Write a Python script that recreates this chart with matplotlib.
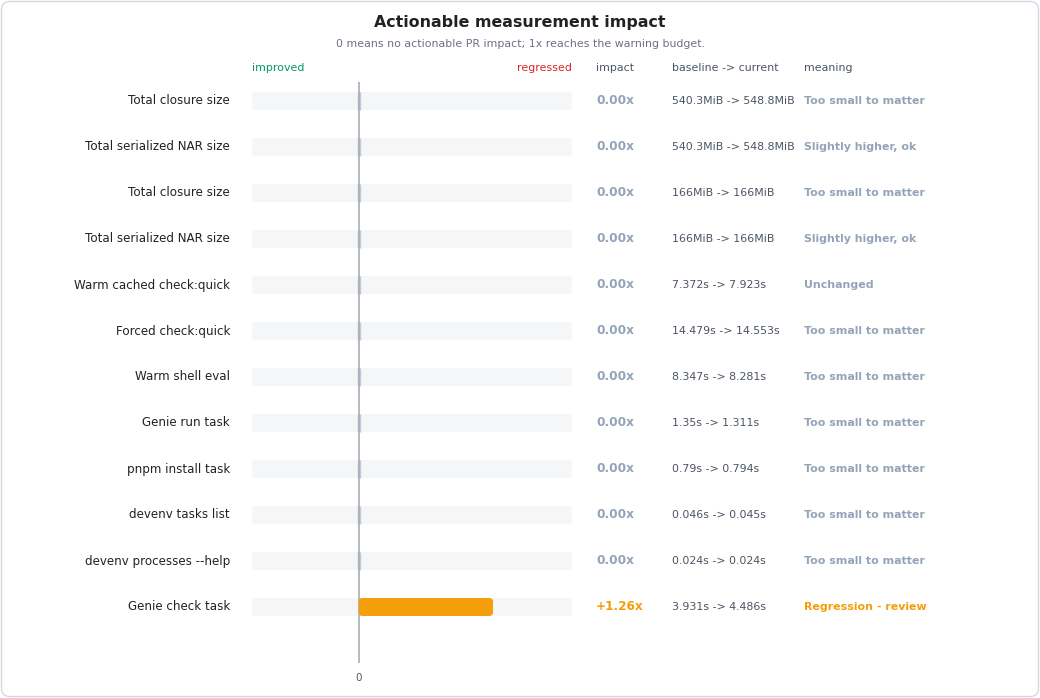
import matplotlib.pyplot as plt
from matplotlib.patches import FancyBboxPatch
from matplotlib.transforms import blended_transform_factory

# data
labels = ['Total closure size', 'Total serialized NAR size', 'Total closure size',
          'Total serialized NAR size', 'Warm cached check:quick', 'Forced check:quick',
          'Warm shell eval', 'Genie run task', 'pnpm install task', 'devenv tasks list',
          'devenv processes --help', 'Genie check task']
impact = [0.0, 0.0, 0.0, 0.0, 0.0, 0.0, 0.0, 0.0, 0.0, 0.0, 0.0, 1.26]
baseline = ['540.3MiB', '540.3MiB', '166MiB', '166MiB', '7.372s', '14.479s',
            '8.347s', '1.35s', '0.79s', '0.046s', '0.024s', '3.931s']
current = ['548.8MiB', '548.8MiB', '166MiB', '166MiB', '7.923s', '14.553s',
           '8.281s', '1.311s', '0.794s', '0.045s', '0.024s', '4.486s']
meaning = ['Too small to matter', 'Slightly higher, ok', 'Too small to matter',
           'Slightly higher, ok', 'Unchanged', 'Too small to matter',
           'Too small to matter', 'Too small to matter', 'Too small to matter',
           'Too small to matter', 'Too small to matter', 'Regression - review']

W, H = 1040, 698
xmin, xmax = -1.0, 2.0
muted = '#94a3b8'
orange = '#f59e0b'

fig = plt.figure(figsize=(W / 100, H / 100), dpi=100)
fig.patch.set_facecolor('white')

# outer rounded border
fig.patches.append(FancyBboxPatch((1.5 / W, 1.5 / H), (W - 3) / W, (H - 3) / H,
                                  boxstyle='round,pad=0,rounding_size=0.008',
                                  mutation_aspect=W / H,
                                  transform=fig.transFigure, facecolor='none',
                                  edgecolor='#d3d9e3', linewidth=1.0))

ax = fig.add_axes([252 / W, 1 - 663 / H, 320 / W, (663 - 82) / H])
ax.set_xlim(xmin, xmax)
ax.set_ylim(11 + 56 / 46, -19 / 46)
for s in ax.spines.values():
    s.set_visible(False)
ax.set_yticks([])
ax.set_xticks([0])
ax.set_xticklabels(['0'])
ax.tick_params(axis='x', length=0, pad=7, labelsize=7.5, labelcolor='#555')

xpp = (xmax - xmin) / 320
ypp = 1 / 46
asp = ypp / xpp
bh = 18 * ypp

for i, v in enumerate(impact):
    ax.add_patch(FancyBboxPatch((xmin, i - bh / 2), xmax - xmin, bh,
                                boxstyle='round,pad=0,rounding_size=%f' % (4 * xpp),
                                mutation_aspect=asp, facecolor='#f5f6f8',
                                edgecolor='none', zorder=1))
    if v > 0:
        ax.add_patch(FancyBboxPatch((0, i - bh / 2), v, bh,
                                    boxstyle='round,pad=0,rounding_size=%f' % (4 * xpp),
                                    mutation_aspect=asp, facecolor=orange,
                                    edgecolor='none', zorder=3))
    else:
        ax.plot([0, 0], [i - bh / 2, i + bh / 2], color='#c5c9d2', lw=2.5, zorder=2,
                solid_capstyle='butt')

ax.axvline(0, color='#a9adb8', lw=1.2, zorder=2.5)

tr = blended_transform_factory(fig.transFigure, ax.transData)
for i in range(len(labels)):
    hot = impact[i] > 0
    c = orange if hot else muted
    ax.text(230 / W, i, labels[i], transform=tr, ha='right', va='center',
            fontsize=8.6, color='#222')
    ax.text(596 / W, i, '%+.2fx' % impact[i] if hot else '%.2fx' % impact[i],
            transform=tr, ha='left', va='center', fontsize=8.7,
            fontweight='bold', color=c)
    ax.text(672 / W, i, '%s -> %s' % (baseline[i], current[i]), transform=tr,
            ha='left', va='center', fontsize=7.95, color='#4b5563')
    ax.text(804 / W, i, meaning[i], transform=tr, ha='left', va='center',
            fontsize=7.9, fontweight='bold', color=c)

# header
hy = 1 - 68 / H
fig.text(252 / W, hy, 'improved', ha='left', va='center', fontsize=7.95, color='#059669')
fig.text(572 / W, hy, 'regressed', ha='right', va='center', fontsize=7.95, color='#dc2626')
fig.text(596 / W, hy, 'impact', ha='left', va='center', fontsize=7.95, color='#4b5563')
fig.text(672 / W, hy, 'baseline -> current', ha='left', va='center', fontsize=7.95,
         color='#4b5563')
fig.text(804 / W, hy, 'meaning', ha='left', va='center', fontsize=7.95, color='#4b5563')

fig.text(0.5, 1 - 22 / H, 'Actionable measurement impact', ha='center', va='center',
         fontsize=11.4, fontweight='bold', color='#222')
fig.text(0.5, 1 - 44 / H, '0 means no actionable PR impact; 1x reaches the warning budget.',
         ha='center', va='center', fontsize=7.9, color='#6b7280')

fig.savefig('out.png', dpi=100)
